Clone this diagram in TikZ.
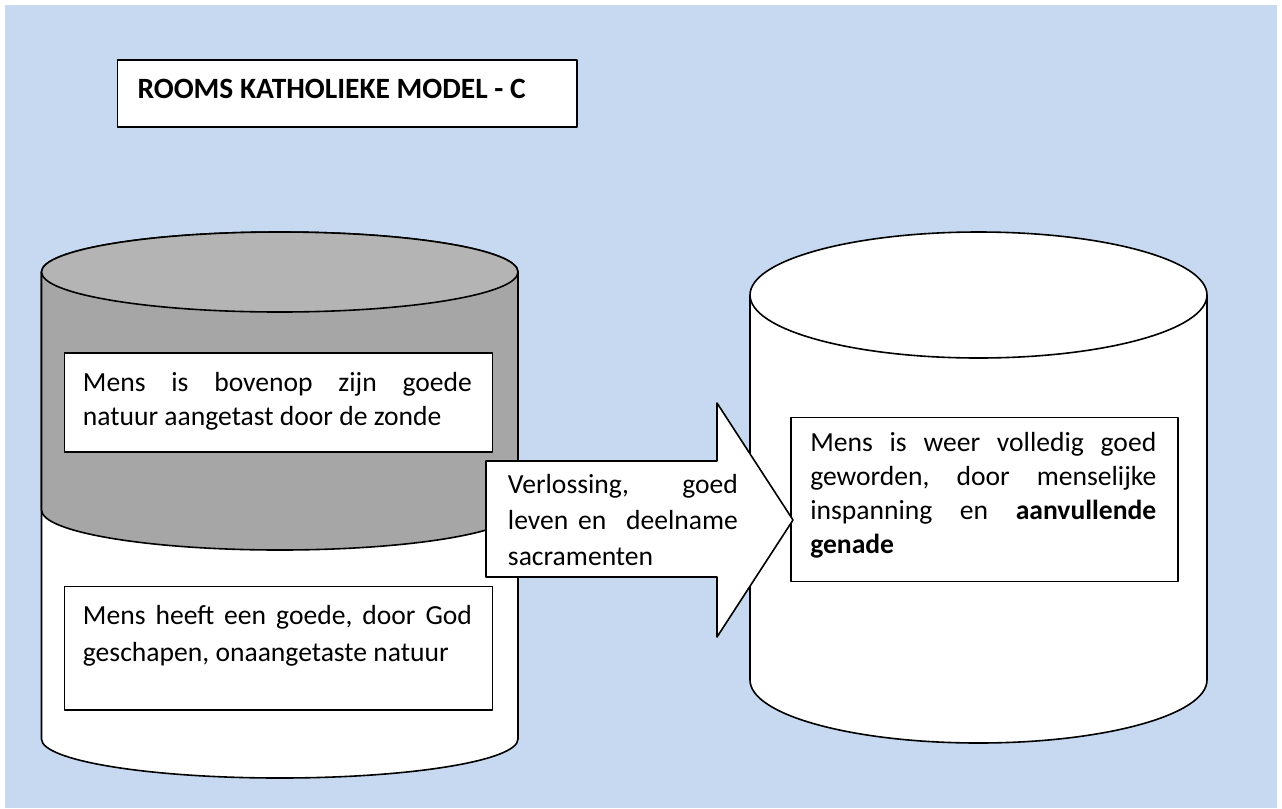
\documentclass[tikz,border=0pt]{standalone}
\usepackage{fontspec}
\setmainfont{Carlito}
\definecolor{bgblue}{HTML}{C6D9F1}
\definecolor{cangray}{HTML}{A6A6A6}
\definecolor{topgray}{HTML}{B4B4B4}
\hyphenpenalty=10000
\tolerance=10000
\begin{document}
\begin{tikzpicture}[x=0.75pt,y=0.75pt,line join=round,
  outline/.style={draw=black,line width=1.2pt},
  txtbox/.style={outline,fill=white,rectangle,inner sep=0pt,anchor=north west},
  bodytext/.style={anchor=base west,inner sep=0pt,align=justify,
    font=\fontsize{20.7}{25.5}\selectfont},
  widetext/.style={bodytext,font=\fontsize{20.7}{27.75}\selectfont},
  arrowtext/.style={bodytext,font=\fontsize{20.7}{27}\selectfont}
]
\useasboundingbox (0,0) rectangle (1282,-808);
\fill[bgblue] (5,-5) rectangle (1277,-808);

% title
\node[txtbox,minimum width=344.5pt,minimum height=50pt] (tbox) at (116.7,-59.3) {};
\node[anchor=base west,inner sep=0pt,font=\bfseries\fontsize{22.1}{26}\selectfont] (ttl) at (137.3,-98.3) {ROOMS KATHOLIEKE MODEL - C};

% left cylinder: white lower can
\draw[outline,fill=white] (41.5,-272) -- (41.5,-739)
  arc[start angle=180,end angle=360,x radius=238.25,y radius=39] -- (518,-272) -- cycle;
% grey upper can
\draw[outline,fill=cangray] (41.5,-272) -- (41.5,-510)
  arc[start angle=180,end angle=360,x radius=238.25,y radius=40] -- (518,-272)
  arc[start angle=0,end angle=180,x radius=238.25,y radius=40] -- cycle;
\draw[outline,fill=topgray] (279.75,-272) ellipse[x radius=238.25,y radius=40];

% left boxes
\node[txtbox,minimum width=321pt,minimum height=74.25pt] (b1) at (63.7,-352) {};
\node[bodytext,text width=291.75pt] (t1) at (82.7,-391.7)
  {Mens~is~bovenop~zijn~goede\linebreak natuur~aangetast~door~de~zonde};
\node[txtbox,minimum width=321pt,minimum height=92.5pt] (b2) at (63.7,-585.7) {};
\node[widetext,text width=291.75pt] (t2) at (82.7,-624.3)
  {Mens~heeft~een~goede,~door~God\linebreak geschapen,~onaangetaste~natuur};

% right cylinder
\draw[outline,fill=white] (750,-295) -- (750,-680)
  arc[start angle=180,end angle=360,x radius=228.5,y radius=63] -- (1207,-295)
  arc[start angle=0,end angle=180,x radius=228.5,y radius=63] -- cycle;
\draw[outline] (750,-295) arc[start angle=180,end angle=360,x radius=228.5,y radius=63];

\node[txtbox,minimum width=290pt,minimum height=123pt] (b3) at (790.3,-416.7) {};
\node[bodytext,text width=259.5pt] (t3) at (810,-451.7)
  {Mens~is~weer~volledig~goed\linebreak geworden,~door~menselijke\linebreak inspanning~en~\textbf{aanvullende}\linebreak \textbf{genade}};

% arrow
\coordinate (s1) at (486,-461);
\coordinate (h1) at (717,-461);
\coordinate (h2) at (717,-403);
\coordinate (tip) at (793,-520);
\coordinate (h3) at (717,-637);
\coordinate (h4) at (717,-577);
\coordinate (s2) at (486,-577);
\draw[outline,fill=white] (s1) -- (h1) -- (h2) -- (tip) -- (h3) -- (h4) -- (s2) -- cycle;
\node[arrowtext,text width=172.5pt] (ta) at (507.7,-493.3)
  {Verlossing,~goed\linebreak leven~en~~deelname\linebreak sacramenten};
\end{tikzpicture}
\end{document}
